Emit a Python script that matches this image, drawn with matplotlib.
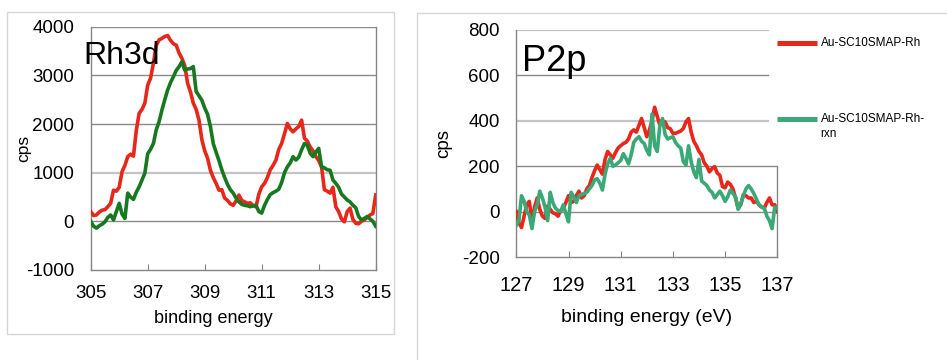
import numpy as np
import matplotlib.pyplot as plt
from matplotlib.lines import Line2D
from matplotlib.patches import Rectangle

plt.rcParams['font.family'] = ['Liberation Sans', 'DejaVu Sans']
plt.rcParams['axes.unicode_minus'] = False

RED = '#e62719'
DKGREEN = '#17791f'
SEAGREEN = '#3aa877'
GRID_DARK = '#8a8a8a'
GRID_LIGHT = '#c4c4c4'

# Rh3d region, 305 -> 315 eV in 0.1 eV steps
rh_red = [200, 120, 130, 190, 230, 240, 300, 370, 640, 620,
          700, 1020, 1150, 1330, 1380, 1340, 1870, 2220, 2300, 2430,
          2800, 2940, 3250, 3620, 3730, 3760, 3800, 3820, 3720, 3650,
          3620, 3460, 3350, 3200, 2840, 2660, 2430, 2300, 2080, 1680,
          1450, 1300, 1050, 900, 780, 640, 650, 480, 430, 360,
          330, 420, 540, 430, 400, 370, 380, 320, 300, 560,
          710, 780, 900, 1060, 1150, 1260, 1480, 1600, 1800, 2010,
          1900, 1840, 1900, 1950, 2080, 1710, 1650, 1530, 1450, 1330,
          1250, 1120, 650, 620, 580, 700, 300, 200, 50, -10,
          200, 270, 40, -40, -50, 0, 30, 80, 130, 160,
          540]
rh_green = [0, -100, -140, -90, -60, -10, 80, 130, 30, 200,
            370, 150, 60, 580, 500, 450, 600, 710, 850, 990,
            1390, 1480, 1600, 1880, 2050, 2290, 2500, 2700, 2850, 2970,
            3100, 3180, 3280, 3110, 3130, 3140, 3180, 2670, 2580, 2490,
            2330, 2200, 1950, 1600, 1420, 1250, 1060, 900, 760, 650,
            580, 480, 400, 350, 330, 320, 300, 320, 330, 200,
            170, 330, 450, 550, 590, 620, 660, 800, 1000, 1120,
            1200, 1330, 1260, 1320, 1470, 1600, 1560, 1400, 1330, 1420,
            1500, 1120, 1100, 1060, 1050, 850, 780, 700, 560, 500,
            440, 400, 330, 280, 100, 30, 60, 100, 50, 0,
            -100]
rh_energy = np.linspace(305, 315, len(rh_red))

# P2p region, 127 -> 137 eV in 0.1 eV steps
p_red = [0, -50, -70, -20, 30, 45, -45, 20, 60, 10,
         -20, -30, 25, 10, -5, -10, -20, 5, 15, 40,
         70, 40, 45, 70, 90, 60, 70, 100, 115, 150,
         180, 205, 185, 165, 230, 265, 250, 235, 260, 280,
         290, 300, 305, 320, 350, 360, 350, 380, 410, 370,
         330, 360, 400, 460, 420, 380, 400, 395, 370, 365,
         345, 345, 350, 355, 366, 395, 410, 350, 310, 290,
         265, 250, 215, 200, 175, 190, 198, 170, 160, 110,
         105, 130, 120, 100, 60, 15, 30, 75, 70, 60,
         60, 40, 45, 30, 20, 15, 40, 60, 30, 30,
         0]
p_green = [-60, -40, 70, 45, 0, -15, -75, 0, 30, 90,
           60, 20, -40, 85, 40, 15, 5, 0, 30, -10,
           -45, 85, 65, 40, 70, 75, 80, 85, 100, 115,
           140, 145, 125, 95, 165, 210, 235, 200, 205, 215,
           225, 255, 235, 210, 250, 305, 320, 330, 310, 300,
           270, 250, 430, 290, 265, 380, 410, 340, 320, 325,
           330, 305, 290, 280, 220, 205, 290, 220, 175, 150,
           230, 135, 125, 115, 95, 85, 60, 75, 90, 70,
           45, 65, 95, 80, 65, 10, 35, 70, 100, 115,
           100, 80, 55, 30, 20, 15, -20, -40, -75, 20,
           15]
p_energy = np.linspace(127, 137, len(p_red))

legend_labels = ['Au-SC10SMAP-Rh', 'Au-SC10SMAP-Rh-\nrxn']

W, H = 947, 360
fig = plt.figure(figsize=(W / 100, H / 100), dpi=100)


def fx(px):
    return px / W


def fy(py):
    return 1 - py / H


# light frames around the two chart objects
fig.add_artist(Rectangle((fx(7), fy(334)), fx(387), 322 / H, transform=fig.transFigure,
                         fill=False, edgecolor='#d6d6d6', lw=1))
fig.add_artist(Rectangle((fx(417), -0.2), 1, fy(13) + 0.2, transform=fig.transFigure,
                         fill=False, edgecolor='#d6d6d6', lw=1))


def style_axes(ax, xsize, xpad):
    ax.spines['top'].set_visible(False)
    for s in ('left', 'bottom', 'right'):
        ax.spines[s].set_color('#858585')
        ax.spines[s].set_linewidth(1)
    ax.tick_params(axis='x', direction='in', length=4, color='#858585', pad=xpad, labelsize=xsize)
    ax.tick_params(axis='y', length=0, pad=12, labelsize=13.5)


# ---- Rh3d ----
ax1 = fig.add_axes([fx(90.7), fy(270), fx(285), 243.3 / H])
for yv in [0, 1000, 2000, 3000, 4000]:
    light = yv == 1000
    ax1.axhline(yv, color=GRID_LIGHT if light else GRID_DARK, lw=1.6 if light else 1, zorder=1)
ax1.plot(rh_energy, rh_red, color=RED, lw=2.6, zorder=3)
ax1.plot(rh_energy, rh_green, color=DKGREEN, lw=2.6, zorder=3)
ax1.set_xlim(305, 315)
ax1.set_ylim(-1000, 4000)
ax1.set_xticks([305, 307, 309, 311, 313, 315])
ax1.set_yticks([-1000, 0, 1000, 2000, 3000, 4000])
style_axes(ax1, 13.5, 11)
ax1.set_xlabel('binding energy', fontsize=13)
ax1.xaxis.set_label_coords(0.429, -0.165)
ax1.set_ylabel('cps', fontsize=12.5)
ax1.yaxis.set_label_coords(-0.21, 0.5)
fig.text(fx(83), fy(64), 'Rh3d', fontsize=23, va='baseline', ha='left')

# ---- P2p ----
ax2 = fig.add_axes([fx(516.3), fy(257), fx(261), 227 / H])
for yv in [0, 200, 400, 600, 800]:
    light = yv in (400, 800)
    xmax = 1 if yv <= 200 else 0.9655
    ax2.axhline(yv, xmax=xmax, color=GRID_LIGHT if light else GRID_DARK,
                lw=1.6 if light else 1, zorder=1)
l_red, = ax2.plot(p_energy, p_red, color=RED, lw=2.6, zorder=3)
l_grn, = ax2.plot(p_energy, p_green, color=SEAGREEN, lw=2.6, zorder=3)
ax2.set_xlim(127, 137)
ax2.set_ylim(-200, 800)
ax2.set_xticks([127, 129, 131, 133, 135, 137])
ax2.set_yticks([-200, 0, 200, 400, 600, 800])
style_axes(ax2, 14.5, 14)
ax2.spines['right'].set_bounds(-200, 200)
ax2.set_xlabel('binding energy (eV)', fontsize=14)
ax2.xaxis.set_label_coords(0.5, -0.228)
ax2.set_ylabel('cps', fontsize=13.5)
ax2.yaxis.set_label_coords(-0.246, 0.5)
fig.text(fx(521.7), fy(70.7), 'P2p', fontsize=26, va='baseline', ha='left')

# legend drawn by hand so the handle lines up with the first text line
for line, label, ypx in [(l_red, legend_labels[0], 43.3), (l_grn, legend_labels[1], 119.3)]:
    fig.add_artist(Line2D([fx(776.7), fx(817)], [fy(ypx), fy(ypx)], transform=fig.transFigure,
                          color=line.get_color(), lw=3.6, solid_capstyle='butt'))
    fig.text(fx(820.7), fy(ypx - 6), label, fontsize=8.5, va='top', ha='left', linespacing=1.35)

fig.savefig('out.png', dpi=100)
